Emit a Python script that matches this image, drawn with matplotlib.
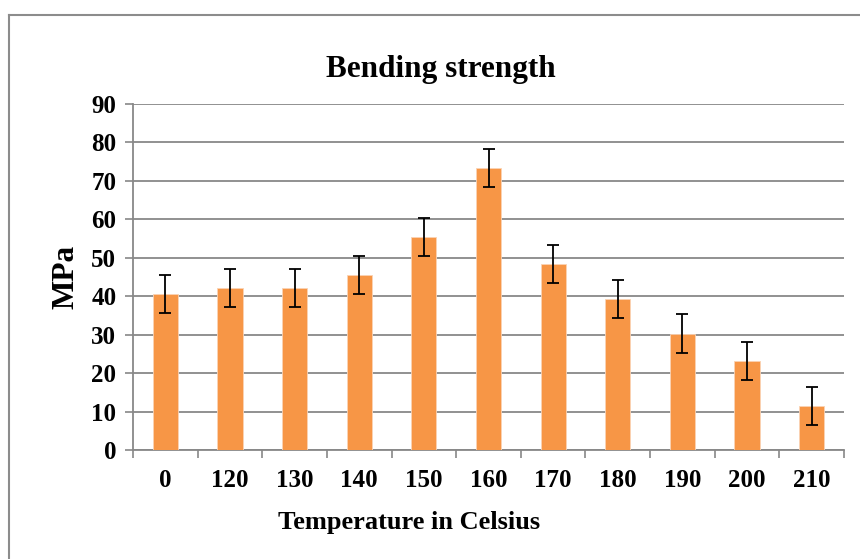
import matplotlib.pyplot as plt
from matplotlib.lines import Line2D
import numpy as np

# data
temps = ['0', '120', '130', '140', '150', '160', '170', '180', '190', '200', '210']
strength = [40.6, 42.1, 42.2, 45.5, 55.4, 73.4, 48.4, 39.3, 30.3, 23.2, 11.5]
errors = [5, 5, 5, 5, 5, 5, 5, 5, 5, 5, 5]

plt.rcParams['font.family'] = 'Liberation Serif'
plt.rcParams['font.weight'] = 'bold'

fig = plt.figure(figsize=(8.6, 5.59), dpi=100)
ax = fig.add_axes([133/860, 1 - 450/559, 711/860, 346/559])

grid_col = '#888888'
x = np.arange(len(temps))
ax.bar(x, strength, width=0.39, color='#F79646', edgecolor='#FAD3B4', linewidth=0.6, zorder=3)
ax.errorbar(x, strength, yerr=errors, fmt='none', ecolor='black', elinewidth=1.3,
            capsize=4.2, capthick=1.3, zorder=4)

ax.set_xlim(-0.5, len(temps) - 0.5)
ax.set_ylim(0, 90)
ax.set_yticks(range(0, 91, 10))
ax.set_xticks(x)
ax.set_xticklabels(temps)
ax.set_xticks(np.arange(-0.5, len(temps)), minor=True)
ax.tick_params(axis='x', which='major', length=0, pad=14, labelsize=18)
ax.tick_params(axis='x', which='minor', length=6, width=1.2, color=grid_col, direction='out')
ax.tick_params(axis='y', length=6, width=1.2, color=grid_col, pad=6, labelsize=18)

ax.yaxis.grid(True, color=grid_col, linewidth=1.3, zorder=0)
for s in ['top', 'right']:
    ax.spines[s].set_visible(False)
for s in ['left', 'bottom']:
    ax.spines[s].set_color(grid_col)
    ax.spines[s].set_linewidth(1.3)

fig.text(441/860, 1 - 70/559, 'Bending strength', fontsize=22.5, fontweight='bold',
         ha='center', va='center')
fig.text(409/860, 1 - 522/559, 'Temperature in Celsius', fontsize=19, fontweight='bold',
         ha='center', va='center')
ax.set_ylabel('MPa', fontsize=22.5, fontweight='bold', labelpad=8)

# outer chart frame
fig.add_artist(Line2D([9/860, 9/860], [0, 1 - 15/559], transform=fig.transFigure,
                      color='#8c8c8c', linewidth=1.5))
fig.add_artist(Line2D([9/860, 1], [1 - 15/559, 1 - 15/559], transform=fig.transFigure,
                      color='#8c8c8c', linewidth=1.5))

plt.savefig('out.png', dpi=100)
